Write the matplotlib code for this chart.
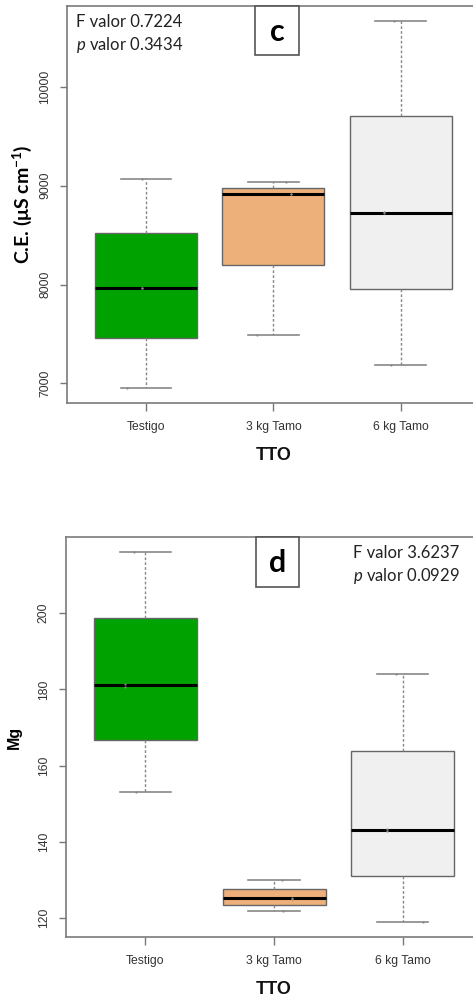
import matplotlib
matplotlib.use('Agg')
import matplotlib.pyplot as plt
from matplotlib.patches import Rectangle
import numpy as np

plt.rcParams['mathtext.fontset'] = 'custom'
plt.rcParams['mathtext.it'] = 'Lato:italic'
plt.rcParams['mathtext.rm'] = 'Lato'
plt.rcParams['mathtext.bf'] = 'Lato:bold'

tto = ['Testigo', '3 kg Tamo', '6 kg Tamo']
colores = ['#00a200', '#edb07a', '#f0f0f0']

# conductividad electrica (uS/cm), 4 repeticiones por tratamiento
ce = [[6950, 7964, 7968, 9066],
      [7486, 8912, 8914, 9033],
      [7182, 8720, 8734, 10670]]
# magnesio
mg = [[153.0, 180.6, 181.5, 216.0],
      [121.9, 125.0, 125.4, 130.1],
      [118.9, 143.0, 143.4, 184.1]]

# desplazamiento horizontal de los puntos
jit_ce = [[-0.15, -0.03, -0.03, -0.03],
          [-0.13, 0.14, 0.14, 0.10],
          [-0.075, -0.13, -0.13, -0.055]]
jit_mg = [[-0.07, -0.16, -0.16, -0.09],
          [0.07, 0.14, 0.14, 0.06],
          [0.16, -0.125, -0.125, -0.055]]

ce_ticks = [7000, 8000, 9000, 10000]
mg_ticks = [120, 140, 160, 180, 200]

est_ce = ['F valor 0.7224', r'$\it{p}$ valor 0.3434']
est_mg = ['F valor 3.6237', r'$\it{p}$ valor 0.0929']


def fivenum(v):
    # igual que fivenum() de R (bisagras de Tukey)
    v = np.sort(np.asarray(v, dtype=float))
    n = len(v)
    n4 = np.floor((n + 3) / 2) / 2
    d = np.array([1, n4, (n + 1) / 2, n + 1 - n4, n]) - 1
    return 0.5 * (v[np.floor(d).astype(int)] + v[np.ceil(d).astype(int)])


def caja(ax, datos, jit, ticks, letra, est, est_x):
    stats = []
    for v in datos:
        lo, q1, med, q3, hi = fivenum(v)
        stats.append(dict(whislo=lo, q1=q1, med=med, q3=q3, whishi=hi))
    bp = ax.bxp(stats, positions=[1, 2, 3], widths=0.8, capwidths=0.4,
                patch_artist=True, showfliers=False,
                boxprops=dict(edgecolor='#666666', linewidth=1.0),
                medianprops=dict(color='black', linewidth=2.2),
                whiskerprops=dict(color='#888888', linewidth=1.0,
                                  linestyle=(0, (2, 1.5))),
                capprops=dict(color='#888888', linewidth=1.2))
    for b, c in zip(bp['boxes'], colores):
        b.set_facecolor(c)
    for i, (v, j) in enumerate(zip(datos, jit)):
        ax.plot(np.array(j) + i + 1, v, 'o', ms=1.6, color='#888888',
                mec='none', zorder=5)

    todos = np.concatenate(datos)
    r = todos.max() - todos.min()
    ax.set_ylim(todos.min() - 0.04 * r, todos.max() + 0.04 * r)
    ax.set_xlim(0.38, 3.62)

    ax.set_yticks(ticks)
    ax.set_yticklabels([str(t) for t in ticks], rotation=90, va='center',
                       fontsize=8.7, color='#333333',
                       family='Liberation Sans')
    ax.set_xticks([1, 2, 3])
    ax.set_xticklabels(tto, fontsize=8.7, color='#333333',
                       family='Liberation Sans')
    ax.tick_params(axis='y', length=5, width=1.0, color='#777777', pad=6.5)
    ax.tick_params(axis='x', length=6, width=1.0, color='#777777', pad=7)
    for s in ['left', 'top', 'bottom']:
        ax.spines[s].set_color('#7a7a7a')
        ax.spines[s].set_linewidth(1.2)
    ax.spines['right'].set_visible(False)

    ax.set_xlabel('TTO', fontsize=13, fontweight='bold',
                  family='Liberation Sans', color='#111111')
    ax.xaxis.set_label_coords(0.5, -0.11)

    # recuadro con la letra del panel
    ax.add_patch(Rectangle((0.456, 0.876), 0.105, 0.124,
                           transform=ax.transAxes, facecolor='white',
                           edgecolor='#555555', linewidth=1.2, zorder=6,
                           clip_on=False))
    ax.text(0.5085, 0.935, letra, transform=ax.transAxes, ha='center',
            va='center', fontsize=22, fontweight='bold', family='Lato',
            zorder=7)

    ax.text(est_x, 0.96, est[0], transform=ax.transAxes, ha='left',
            va='center', fontsize=12, family='Lato', color='#222222')
    ax.text(est_x, 0.902, est[1], transform=ax.transAxes, ha='left',
            va='center', fontsize=12, family='Lato', color='#222222')


fig = plt.figure(figsize=(4.73, 9.99), dpi=100)
ax1 = fig.add_axes([0.1416, 0.5966, 0.873, 0.3974])
ax2 = fig.add_axes([0.1389, 0.0618, 0.881, 0.4004])

caja(ax1, ce, jit_ce, ce_ticks, 'c', est_ce, 0.022)
ax1.set_ylabel(r'C.E. ($\mathbf{\mu}$S cm$^{\mathbf{-1}}$)', fontsize=14,
               fontweight='bold', family='Lato')
ax1.yaxis.set_label_coords(-0.08, 0.5)

caja(ax2, mg, jit_mg, mg_ticks, 'd', est_mg, 0.689)
ax2.set_ylabel('Mg', fontsize=11.5, fontweight='bold',
               family='Liberation Sans')
ax2.yaxis.set_label_coords(-0.105, 0.5)

fig.savefig('out.png', dpi=100)
